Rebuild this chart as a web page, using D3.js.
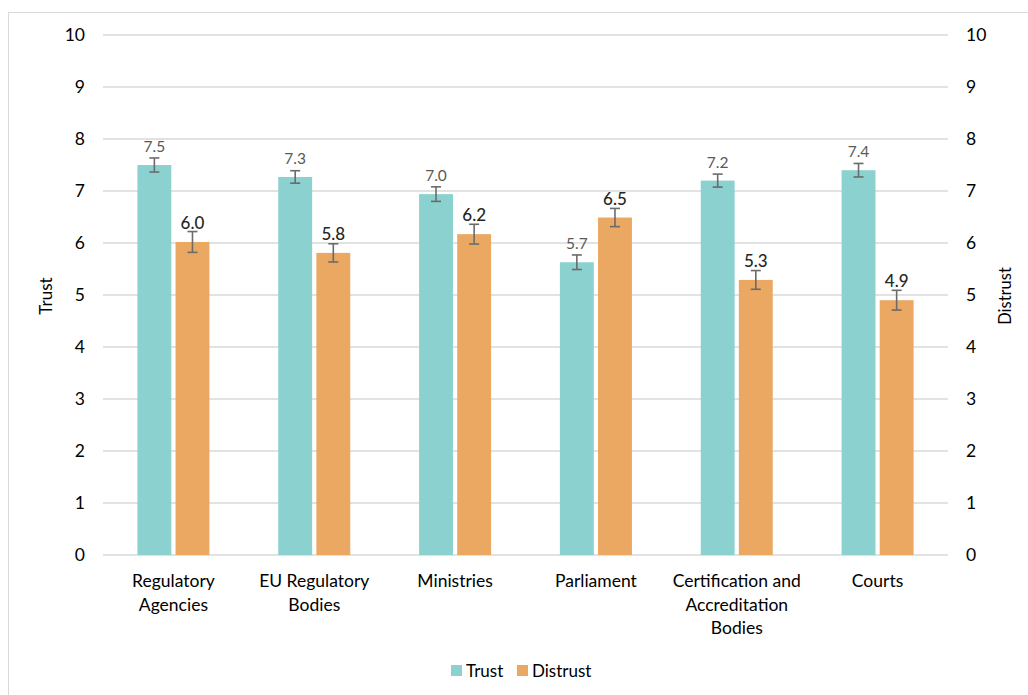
<!DOCTYPE html>
<html><head><meta charset="utf-8">
<script src="https://cdn.jsdelivr.net/npm/d3@7"></script>
<style>body{margin:0;background:#fff}svg{display:block;font-family:Lato,"Open Sans",sans-serif}</style>
</head><body><svg id="c" width="1028" height="695"></svg>
<script>
const categories = [["Regulatory","Agencies"],["EU Regulatory","Bodies"],["Ministries"],["Parliament"],["Certification and","Accreditation","Bodies"],["Courts"]];
const trust = [7.5, 7.27, 6.94, 5.63, 7.2, 7.4];
const distrust = [6.02, 5.81, 6.17, 6.49, 5.29, 4.9];
const trustErr = [0.135, 0.12, 0.14, 0.14, 0.125, 0.13];
const distrustErr = [0.2, 0.175, 0.19, 0.175, 0.18, 0.19];
const trustLabels = ["7.5","7.3","7.0","5.7","7.2","7.4"];
const distrustLabels = ["6.0","5.8","6.2","6.5","5.3","4.9"];
const ticks = [0,1,2,3,4,5,6,7,8,9,10];
const seriesNames = ["Trust","Distrust"];
const colors = ["#8bd1cf","#eaa862"];

(function(){
const svg = d3.select("#c");
svg.append("rect").attr("x",8.5).attr("y",12.5).attr("width",1040).attr("height",700)
  .attr("fill","#fff").attr("stroke","#d9d9d9");

const pL=103, pR=948, pT=35, pB=555;
const y = d3.scaleLinear().domain([0,10]).range([pB,pT]);
const x = d3.scaleBand().domain(d3.range(categories.length)).range([pL,pR]);
const xs = d3.scaleBand().domain([0,1]).range([0,72]).paddingInner(0.111);

svg.append("g").selectAll("line").data(ticks).join("line")
  .attr("x1",pL).attr("x2",pR).attr("y1",d=>y(d)).attr("y2",d=>y(d))
  .attr("stroke","#d9d9d9").attr("stroke-width",1.3);

const yl = d3.axisLeft(y).tickValues(ticks).tickSize(0).tickPadding(0);
const gl = svg.append("g").attr("transform","translate(85,0)").call(yl);
const yr = d3.axisRight(y).tickValues(ticks).tickSize(0).tickPadding(0);
const gr = svg.append("g").attr("transform","translate(966,0)").call(yr);
[gl,gr].forEach(g=>{g.select(".domain").remove();
  g.selectAll("text").attr("font-size",17.5).attr("fill","#000").attr("font-family","Lato,'Open Sans',sans-serif");});

svg.append("text").attr("transform","translate(52,296) rotate(-90)").attr("text-anchor","middle")
  .attr("font-size",17).attr("fill","#000").text("Trust");
svg.append("text").attr("transform","translate(1011,296) rotate(-90)").attr("text-anchor","middle")
  .attr("font-size",16.5).attr("fill","#000").text("Distrust");

const series = [trust, distrust];
const errs = [trustErr, distrustErr];
const labs = [trustLabels, distrustLabels];
const bw = xs.bandwidth();
series.forEach((vals,s)=>{
  const g = svg.append("g");
  const cx = i => x(i) + (x.bandwidth()-72)/2 + xs(s);
  g.selectAll("rect").data(vals).join("rect")
    .attr("x",(d,i)=>cx(i)).attr("y",d=>y(d)).attr("width",bw).attr("height",d=>pB-y(d))
    .attr("fill",colors[s]);
  const eg = svg.append("g").attr("stroke","#6b6b6b").attr("stroke-width",1.6);
  vals.forEach((v,i)=>{
    const mx = cx(i)+bw/2, e = errs[s][i];
    eg.append("line").attr("x1",mx).attr("x2",mx).attr("y1",y(v+e)).attr("y2",y(v-e));
    eg.append("line").attr("x1",mx-5).attr("x2",mx+5).attr("y1",y(v+e)).attr("y2",y(v+e));
    eg.append("line").attr("x1",mx-5).attr("x2",mx+5).attr("y1",y(v-e)).attr("y2",y(v-e));
  });
  svg.append("g").selectAll("text").data(vals).join("text")
    .attr("x",(d,i)=>cx(i)+bw/2).attr("y",d=>y(d)-13).attr("text-anchor","middle")
    .attr("font-size",s===0?15.5:17).attr("fill",s===0?"#595959":"#262626")
    .attr("font-weight",s===0?400:500)
    .text((d,i)=>labs[s][i]);
});

categories.forEach((lines,i)=>{
  const t = svg.append("text").attr("text-anchor","middle").attr("font-size",17.5).attr("fill","#000");
  lines.forEach((ln,j)=>t.append("tspan").attr("x",x(i)+x.bandwidth()/2).attr("y",587+j*23.5).text(ln));
});

const lg = svg.append("g");
const lx = [451,517];
seriesNames.forEach((n,i)=>{
  lg.append("rect").attr("x",lx[i]).attr("y",665).attr("width",11).attr("height",11).attr("fill",colors[i]);
  lg.append("text").attr("x",lx[i]+15).attr("y",676.5).attr("font-size",17).attr("fill","#000").text(n);
});
})();
</script></body></html>
